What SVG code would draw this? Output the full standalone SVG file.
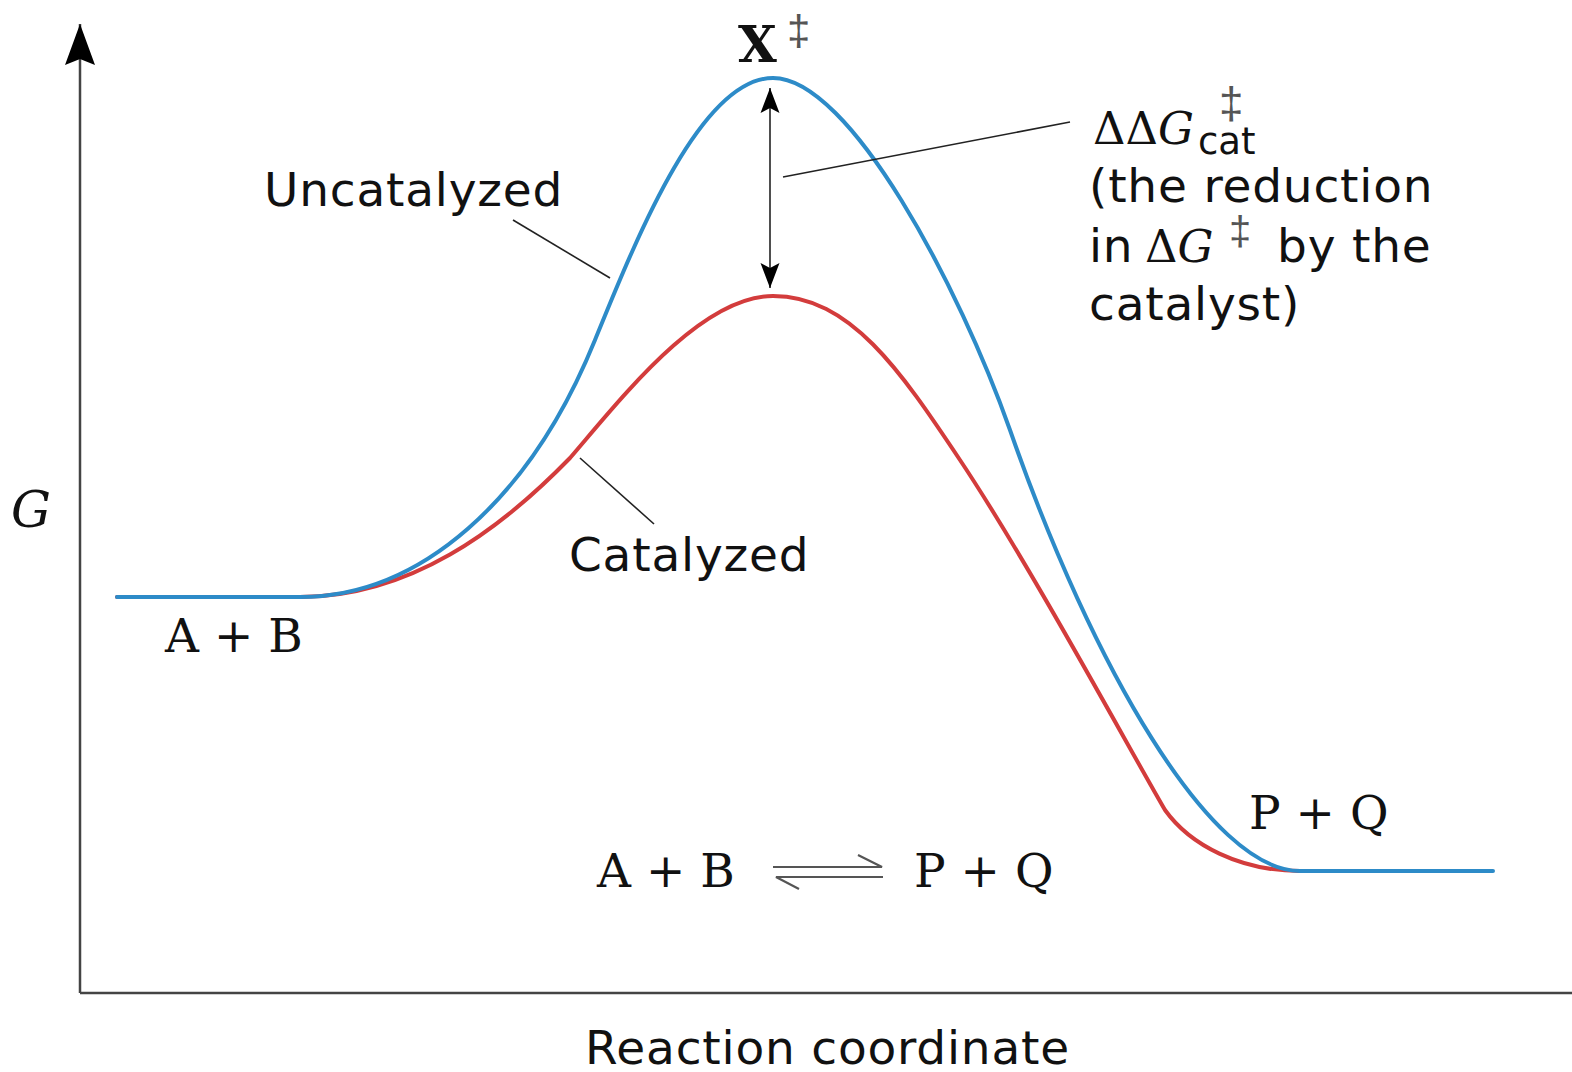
<svg xmlns="http://www.w3.org/2000/svg" width="1572" height="1072" viewBox="0 0 1572 1072">
<defs>
<style>
.sans{font-family:"DejaVu Sans","Liberation Sans",sans-serif;font-size:47px;letter-spacing:0.8px;fill:#111}
.serif{font-family:"DejaVu Serif","Liberation Serif",serif;fill:#111;letter-spacing:0}
.it{font-style:italic}
.dag{font-family:"Liberation Sans","DejaVu Sans",sans-serif;fill:#555;letter-spacing:0}
.leader{stroke:#222;stroke-width:1.6;fill:none}
.axis{stroke:#444;stroke-width:2.5;fill:none}
.blue{stroke:#2d8bc8;stroke-width:4;fill:none;stroke-linecap:round}
.red{stroke:#d33c3c;stroke-width:4;fill:none;stroke-linecap:round}
.eq{stroke:#555;stroke-width:2.2;fill:none}
</style>
<marker id="head" markerUnits="userSpaceOnUse" viewBox="-26 -10 27 20" markerWidth="27" markerHeight="20" refX="0" refY="0" orient="auto-start-reverse">
<path d="M0,0 L-25,-9.5 L-20,0 L-25,9.5 Z" fill="#000"/>
</marker>
<marker id="axhead" markerUnits="userSpaceOnUse" viewBox="-42 -16 43 32" markerWidth="43" markerHeight="32" refX="0" refY="0" orient="auto">
<path d="M0,0 L-41,-15 L-35,0 L-41,15 Z" fill="#000"/>
</marker>
</defs>

<g id="axes">
<path class="axis" d="M80,993 L80,24" marker-end="url(#axhead)"/>
<path class="axis" d="M80,993 L1572,993"/>
<text class="serif it" x="11" y="527" font-size="50">G</text>
<text class="sans" x="585" y="1064">Reaction coordinate</text>
</g>

<g id="curves">
<path id="catalyzed-curve" class="red" d="M117,597 L300,597 C410,597 500,530 570,458 C620,400 700,296 773,296 C850,296 900,370 960,460 C1030,565 1130,750 1165,810 C1190,845 1240,871 1300,871"/>
<path id="uncatalyzed-curve" class="blue" d="M117,597 L300,597 C420,597 530,500 595,340 C635,242 700,78 773,78 C850,78 960,288 1010,430 C1092,665 1210,871 1300,871 L1493,871"/>
</g>

<g id="connectors">
<path class="leader" d="M770,88 L770,288" stroke="#000" stroke-width="2" marker-start="url(#head)" marker-end="url(#head)"/>
<path class="leader" d="M783,177 L1070,122"/>
<path class="leader" d="M513,220 L610,278"/>
<path class="leader" d="M580,458 L654,524"/>
</g>

<g id="ts-label">
<text class="serif" x="738" y="62" font-size="50" font-weight="bold">X<tspan class="dag" x="787" y="45" font-size="42" font-weight="normal">‡</tspan></text>
</g>

<g id="uncatalyzed-label">
<text class="sans" x="264" y="206">Uncatalyzed</text>
</g>

<g id="catalyzed-label">
<text class="sans" x="569" y="571">Catalyzed</text>
</g>

<g id="ddg-label">
<text class="sans"><tspan class="serif" x="1093" y="144" font-size="45">ΔΔ</tspan><tspan class="serif it" font-size="45">G</tspan><tspan x="1198" y="154" font-size="37" letter-spacing="0">cat</tspan><tspan class="dag" x="1219" y="118" font-size="44">‡</tspan><tspan x="1089" y="202">(the reduction</tspan><tspan x="1089" y="262">in</tspan><tspan class="serif" x="1145" y="262" font-size="45">Δ</tspan><tspan class="serif it" font-size="45">G</tspan><tspan class="dag" x="1229" y="245" font-size="40">‡</tspan><tspan x="1277" y="262">by the</tspan><tspan x="1089" y="320">catalyst)</tspan></text>
</g>

<g id="reactants">
<text class="serif" x="165" y="652" font-size="47">A + B</text>
</g>

<g id="products">
<text class="serif" x="1249" y="829" font-size="47">P + Q</text>
</g>

<g id="equation">
<text class="serif" x="597" y="887" font-size="47">A + B</text>
<path class="eq" d="M773,867 L882,867 L858,855"/>
<path class="eq" d="M883,877 L776,877 L799,889"/>
<text class="serif" x="914" y="887" font-size="47">P + Q</text>
</g>
</svg>
